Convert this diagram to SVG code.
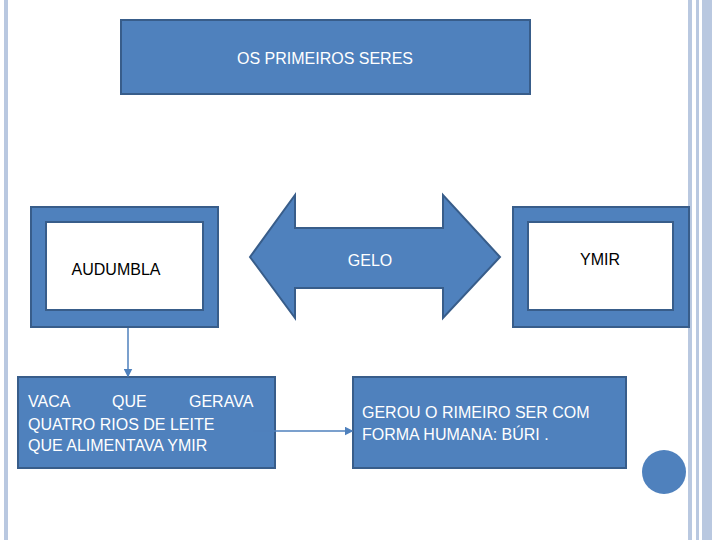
<svg xmlns="http://www.w3.org/2000/svg" width="720" height="540" viewBox="0 0 720 540">
<defs>
<style>
.b{fill:#4f81bd;stroke:#385d8a;stroke-width:2}
.w{fill:#fff;stroke:#385d8a;stroke-width:2}
.t{font-family:"Liberation Sans",Arial,sans-serif;font-size:16px}
.c{stroke:#4f81bd;stroke-width:1.5;fill:none}
</style>
<marker id="a" markerWidth="6" markerHeight="6" refX="5" refY="3" orient="auto"><path d="M0,0L6,3L0,6z" fill="#4f81bd"/></marker>
</defs>
<rect width="720" height="540" fill="#fff"/>
<rect x="4" y="0" width="4" height="540" fill="#b9c8e0"/>
<rect x="688" y="0" width="4" height="540" fill="#b9c8e0"/>
<rect x="696" y="0" width="3" height="540" fill="#b9c8e0"/>
<rect x="702" y="0" width="10" height="540" fill="#b9c8e0"/>
<g id="title"><rect class="b" x="121" y="20" width="409" height="74"/><text class="t" x="325" y="64" text-anchor="middle" fill="#fff" font-size="19">OS PRIMEIROS SERES</text></g>
<g id="audumbla"><rect class="b" x="31" y="207" width="187" height="120"/><rect class="w" x="46" y="222" width="157" height="88"/><text class="t" x="116" y="275" text-anchor="middle" font-size="17">AUDUMBLA</text></g>
<g id="gelo"><path class="b" d="M250,257L295,195V228H443V195L500,257L443,318V288H295V318Z"/><text class="t" x="370" y="266" text-anchor="middle" fill="#fff" font-size="25">GELO</text></g>
<g id="ymir"><rect class="b" x="513" y="207" width="176" height="120"/><rect class="w" x="528" y="222" width="145" height="88"/><text class="t" x="600" y="265" text-anchor="middle" font-size="17">YMIR</text></g>
<g id="vaca"><rect class="b" x="18" y="377" width="257" height="91"/>
<text class="t" fill="#fff"><tspan x="28" y="407">VACA</tspan><tspan x="112" y="407">QUE</tspan><tspan x="189" y="407">GERAVA</tspan><tspan x="28" y="430">QUATRO  RIOS  DE  LEITE</tspan><tspan x="28" y="451">QUE ALIMENTAVA YMIR</tspan></text></g>
<g id="gerou"><rect class="b" x="353" y="377" width="273" height="91"/><text class="t" fill="#fff"><tspan x="362" y="418">GEROU O RIMEIRO SER COM</tspan><tspan x="362" y="440">FORMA HUMANA: BÚRI .</tspan></text></g>
<g id="circle"><circle cx="664" cy="472" r="22" fill="#4f81bd"/></g>
<g id="connectors"><path class="c" d="M128,328V376" marker-end="url(#a)"/><path class="c" d="M253,431H352" marker-end="url(#a)"/></g>
</svg>
